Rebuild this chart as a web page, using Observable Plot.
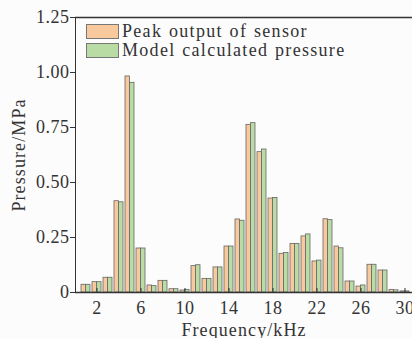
<!DOCTYPE html>
<html>
<head>
<meta charset="utf-8">
<script src="https://cdn.jsdelivr.net/npm/d3@7"></script>
<script src="https://cdn.jsdelivr.net/npm/@observablehq/plot@0.6"></script>
<style>
  html, body { margin: 0; padding: 0; background: #fcfcfc; }
  #wrap { position: relative; width: 412px; height: 338px; overflow: hidden; }
  svg text { letter-spacing: 0.5px; }
  svg g[aria-label$="axis label"] text { letter-spacing: 1.1px; }
  .legend { position: absolute; left: 86px; top: 22px; font-family: "Liberation Serif", serif; font-size: 18px; color: #333; letter-spacing: 1.3px; word-spacing: 1px; }
  .row { display: flex; align-items: center; height: 19px; }
  .sw { width: 31px; height: 13px; border: 1px solid #777; margin-right: 3px; box-sizing: content-box; }
</style>
</head>
<body>
<div id="wrap"></div>
<script>
const freq = [1,2,3,4,5,6,7,8,9,10,11,12,13,14,15,16,17,18,19,20,21,22,23,24,25,26,27,28,29,30];
const peak  = [0.035,0.047,0.067,0.415,0.982,0.200,0.032,0.053,0.015,0.009,0.120,0.062,0.114,0.209,0.332,0.762,0.638,0.427,0.176,0.221,0.255,0.141,0.333,0.209,0.050,0.027,0.126,0.100,0.012,0.005];
const model = [0.035,0.047,0.067,0.410,0.953,0.200,0.029,0.053,0.015,0.012,0.124,0.062,0.114,0.209,0.326,0.770,0.650,0.430,0.180,0.221,0.264,0.145,0.329,0.201,0.050,0.032,0.126,0.100,0.010,0.005];
const xTicks = [2,6,10,14,18,22,26,30];
const yTicks = [0,0.25,0.5,0.75,1.0,1.25];
const seriesNames = ["Peak output of sensor", "Model calculated pressure"];
const colors = ["#f7c99d", "#b8dca4"];

const rows = freq.map((f, i) => ({f, peak: peak[i], model: model[i]}));

const chart = Plot.plot({
  width: 412,
  height: 338,
  marginLeft: 75,
  marginRight: 0,
  marginTop: 17,
  marginBottom: 46,
  style: {fontFamily: "'Liberation Serif', serif", fontSize: "18px", color: "#333", background: "#fcfcfc"},
  x: {type: "band", domain: freq, range: [79.5, 411.5], padding: 0.18},
  y: {domain: [0, 1.25], ticks: yTicks, tickSize: 5, tickPadding: 1,
      tickFormat: d => d === 0 ? "0" : d.toFixed(2),
      label: "Pressure/MPa", labelAnchor: "center", labelOffset: 63, labelArrow: "none", line: true},
  marks: [
    Plot.barY(rows, {x: "f", y: "peak", fill: colors[0], stroke: "#666", strokeWidth: 0.8, insetRight: 4.5}),
    Plot.barY(rows, {x: "f", y: "model", fill: colors[1], stroke: "#666", strokeWidth: 0.8, insetLeft: 4.5}),
    Plot.ruleY([0], {stroke: "#333", strokeWidth: 1.3}),
    Plot.ruleY([1.25], {stroke: "#333", strokeWidth: 1.3}),
    Plot.axisX({ticks: xTicks, tickSize: 4, dy: -4, tickFormat: () => "", label: null, stroke: "#333"}),
    Plot.axisX({ticks: xTicks, tickSize: 0, tickPadding: 9, label: "Frequency/kHz", labelAnchor: "center", labelOffset: 43, labelArrow: "none"})
  ]
});
const wrap = document.getElementById("wrap");
wrap.appendChild(chart);

const legend = document.createElement("div");
legend.className = "legend";
seriesNames.forEach((name, i) => {
  const row = document.createElement("div");
  row.className = "row";
  const sw = document.createElement("div");
  sw.className = "sw";
  sw.style.background = colors[i];
  const t = document.createElement("span");
  t.textContent = name;
  row.appendChild(sw);
  row.appendChild(t);
  legend.appendChild(row);
});
wrap.appendChild(legend);
</script>
</body>
</html>
